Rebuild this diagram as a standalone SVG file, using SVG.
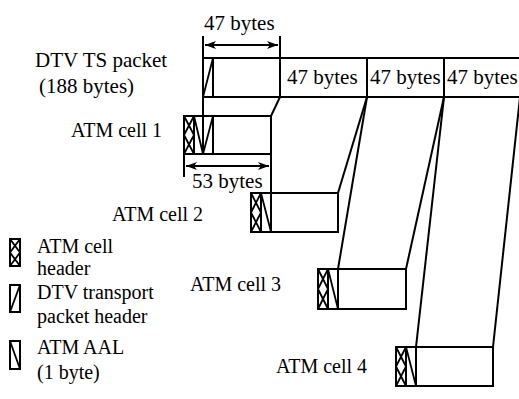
<svg xmlns="http://www.w3.org/2000/svg" width="519" height="399" viewBox="0 0 519 399">
<defs>
<marker id="ah" viewBox="0 0 11 8" refX="11" refY="4" markerWidth="11" markerHeight="8" markerUnits="userSpaceOnUse" orient="auto-start-reverse">
<path d="M0,0 L11,4 L0,8 L3,4 Z" fill="#000"/>
</marker>
</defs>
<style>
text{font-family:"Liberation Serif","Times New Roman",serif;font-size:21px;fill:#000}
.lab{font-size:20px}
.leg{font-size:20px}
.ln{stroke:#000;stroke-width:2;fill:none}
.box{stroke:#000;stroke-width:2;fill:#fff}
.h{stroke:#000;stroke-width:1.8;fill:none}
.dim{stroke:#000;stroke-width:2;fill:none;marker-start:url(#ah);marker-end:url(#ah)}
</style>
<rect width="519" height="399" fill="#fff"/>

<g id="ts-packet">
<path class="ln" d="M203,58 H519 M203,97 H519 M213,58 V97 M280,58 V97 M367,58 V97 M444,58 V97"/>
<path class="h" d="M203,97 L213,58"/>
<text x="35" y="67">DTV TS packet</text>
<text x="39" y="93">(188 bytes)</text>
<text x="287" y="84">47 bytes</text>
<text x="370" y="84">47 bytes</text>
<text x="447" y="84">47 bytes</text>
</g>

<g id="dim-47">
<path class="ln" d="M280,36 V58"/>
<line class="dim" x1="205" y1="45" x2="278" y2="45"/>
<text x="204" y="30">47 bytes</text>
</g>

<g id="atm-cell-1">
<rect class="box" x="184" y="116" width="87" height="38"/>
<path class="ln" d="M194,116 V154 M213,116 V154 M271,154 V177 M184,154 V177"/>
<path class="h" d="M184,116 L194,135 M194,116 L184,135 M184,135 L194,154 M194,135 L184,154 M194,116 L203,154 L213,116"/>
<line class="dim" x1="186" y1="166" x2="269" y2="166"/>
<text x="192" y="188">53 bytes</text>
<text class="lab" x="71" y="137">ATM cell 1</text>
</g>

<g id="atm-cell-2">
<rect class="box" x="251" y="193" width="87" height="39"/>
<path class="ln" d="M261,193 V232 M271,193 V232"/>
<path class="h" d="M251,193 L261,212.5 M261,193 L251,212.5 M251,212.5 L261,232 M261,212.5 L251,232 M261,193 L271,232"/>
<text class="lab" x="112" y="221">ATM cell 2</text>
</g>

<g id="atm-cell-3">
<rect class="box" x="318" y="269" width="88" height="40"/>
<path class="ln" d="M328,269 V309 M338,269 V309"/>
<path class="h" d="M318,269 L328,289 M328,269 L318,289 M318,289 L328,309 M328,289 L318,309 M328,269 L338,309"/>
<text class="lab" x="190" y="291">ATM cell 3</text>
</g>

<g id="atm-cell-4">
<rect class="box" x="396" y="347" width="97" height="39"/>
<path class="ln" d="M406,347 V386 M416,347 V386"/>
<path class="h" d="M396,347 L406,366.5 M406,347 L396,366.5 M396,366.5 L406,386 M406,366.5 L396,386 M406,347 L416,386"/>
<text class="lab" x="276" y="373">ATM cell 4</text>
</g>

<g id="connectors">
<path class="ln" d="M203,36 V154"/>
<path class="ln" d="M280,97 L271,116"/>
<path class="ln" d="M271,116 V193"/>
<path class="ln" d="M367,97 L338,193"/>
<path class="ln" d="M367,97 L338,269"/>
<path class="ln" d="M444,97 L406,269"/>
<path class="ln" d="M444,97 L416,347"/>
<path class="ln" d="M520,97 L493,347"/>
</g>

<g id="legend-atm-header">
<rect class="box" x="10" y="239" width="10" height="27"/>
<path class="h" d="M10,239 L20,252.5 M20,239 L10,252.5 M10,252.5 L20,266 M20,252.5 L10,266"/>
<text class="leg" x="37" y="253">ATM cell</text>
<text class="leg" x="37" y="275">header</text>
</g>
<g id="legend-dtv-header">
<rect class="box" x="10" y="285" width="10" height="27"/>
<path class="h" d="M10,312 L20,285"/>
<text class="leg" x="37" y="299">DTV transport</text>
<text class="leg" x="37" y="323">packet header</text>
</g>
<g id="legend-aal">
<rect class="box" x="10" y="341" width="10" height="28"/>
<path class="h" d="M10,341 L20,369"/>
<text class="leg" x="37" y="354">ATM AAL</text>
<text class="leg" x="37" y="379">(1 byte)</text>
</g>
</svg>
